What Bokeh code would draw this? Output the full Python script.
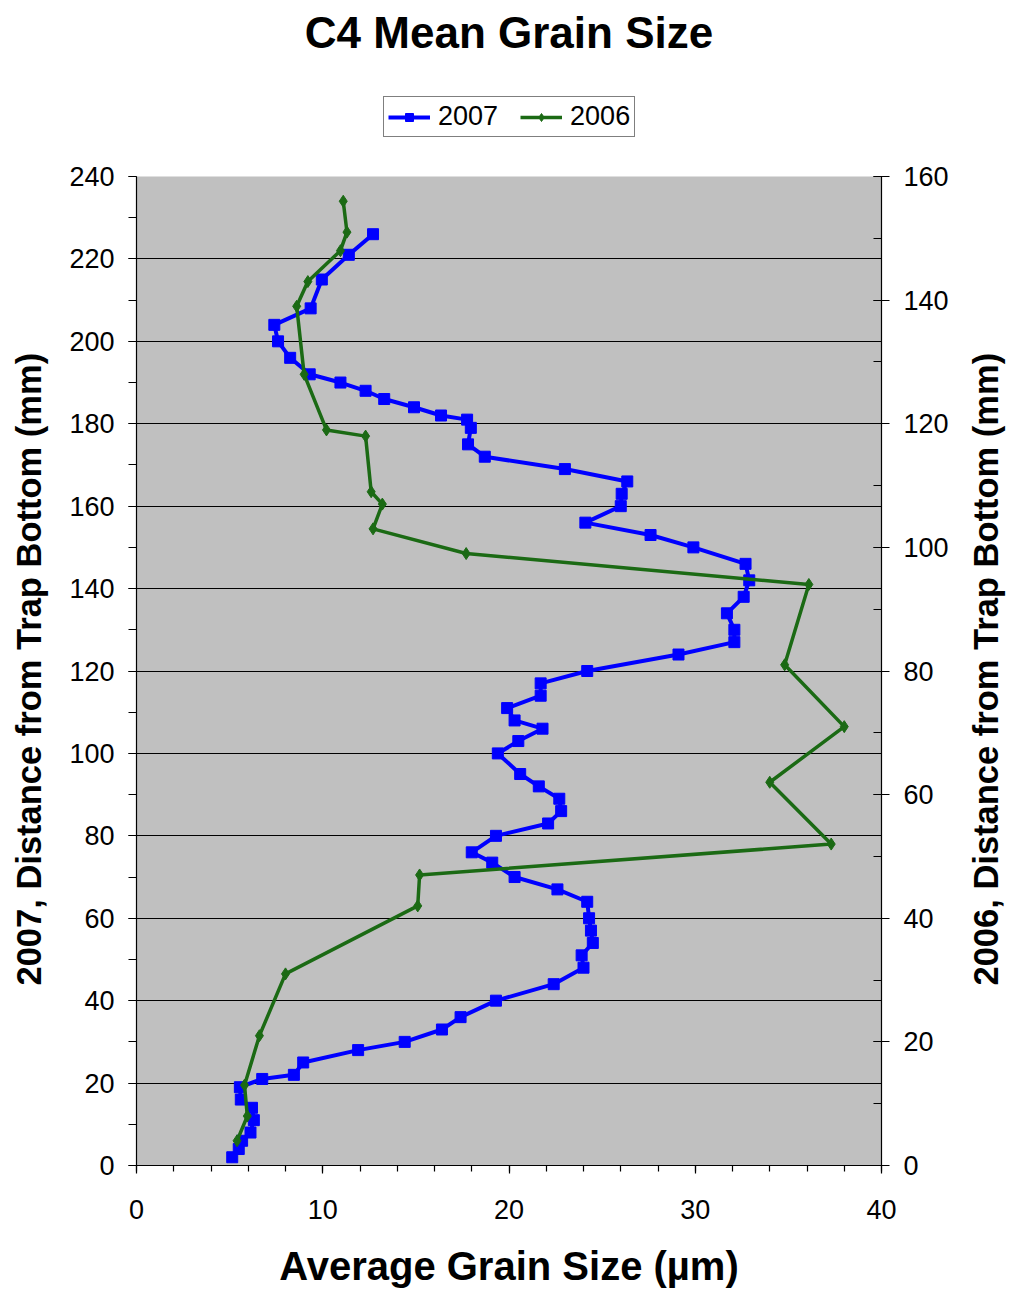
from bokeh.plotting import figure
from bokeh.layouts import row
from bokeh.models import (Range1d, LinearAxis, Legend, LegendItem, Title,
                          FixedTicker, SingleIntervalTicker)
from bokeh.embed import file_html
from bokeh.resources import INLINE

# 2007 core: distance from trap bottom (mm) and mean grain size (µm)
depth_2007 = [226, 221, 215, 208, 204, 200, 196, 192, 190, 188, 186, 184, 182,
              181, 179, 175, 172, 169, 166, 163, 160, 156, 153, 150, 146, 142,
              138, 134, 130, 127, 124, 120, 117, 114, 111, 108, 106, 103, 100,
              95, 92, 89, 86, 83, 80, 76, 73.5, 70, 67, 64, 60, 57, 54, 51, 48,
              44, 40, 36, 33, 30, 28, 25, 22, 21, 19, 16, 14, 11, 8, 6, 4, 2]
size_2007 = [12.7, 11.4, 9.95, 9.35, 7.4, 7.6, 8.25, 9.3, 10.95, 12.3, 13.3,
             14.9, 16.35, 17.75, 17.95, 17.8, 18.7, 23.0, 26.35, 26.05, 26.0,
             24.1, 27.6, 29.9, 32.7, 32.9, 32.6, 31.7, 32.1, 32.1, 29.1, 24.2,
             21.7, 21.7, 19.9, 20.3, 21.8, 20.5, 19.4, 20.6, 21.6, 22.7, 22.8,
             22.1, 19.3, 18.0, 19.1, 20.3, 22.6, 24.2, 24.3, 24.4, 24.5, 23.9,
             24.0, 22.4, 19.3, 17.4, 16.4, 14.4, 11.9, 8.95, 8.45, 6.75, 5.55,
             5.6, 6.2, 6.3, 6.12, 5.67, 5.49, 5.14]

# 2006 core: distance from trap bottom (mm) and mean grain size (µm)
depth_2006 = [156, 151, 148, 143, 139, 128, 119, 118, 109, 107, 103, 99, 94,
              81, 71, 62, 52, 47, 42, 31, 21, 13, 8, 4]
size_2006 = [11.1, 11.3, 10.95, 9.2, 8.6, 9.0, 10.2, 12.3, 12.6, 13.2, 12.7,
             17.7, 36.1, 34.8, 38.0, 34.0, 37.3, 15.2, 15.1, 8.0, 6.6, 5.8,
             5.95, 5.4]

TITLE = "C4 Mean Grain Size"
X_LABEL = "Average Grain Size (µm)"
Y_LABEL_2007 = "2007, Distance from Trap Bottom (mm)"
Y_LABEL_2006 = "2006, Distance from Trap Bottom (mm)"

# axis limits
X_MAX = 40
Y07_MAX = 240
Y06_MAX = 160

FONT = "Liberation Sans"
BLUE = "#0000FF"
GREEN = "#1B6A14"
PANEL_GREY = "#C0C0C0"

# page layout (px): [left title strip | chart | right title strip]
H = 1291
W_LEFT, W_RIGHT = 54, 56
W_MAIN = 1012 - W_LEFT - W_RIGHT
AXES_LEFT, AXES_RIGHT = 136, 881      # grey panel edges on the page
AXES_TOP, AXES_BOTTOM = 176, 1165     # 240 mm line and 0 line on the page
CHART_TOP = 58                        # chart frame starts above the legend
frame_h = AXES_BOTTOM - CHART_TOP
axes_h = AXES_BOTTOM - AXES_TOP
y07_end = Y07_MAX * frame_h / axes_h
y06_end = Y06_MAX * frame_h / axes_h
# vertical axis titles start this far above the 0 line
Y_TITLE_OFFSET = 180


def style_axis(ax, label, tick_font="27px", label_font="40px"):
    ax.axis_label = label
    ax.axis_label_text_font = FONT
    ax.axis_label_text_font_size = label_font
    ax.axis_label_text_font_style = "bold"
    ax.axis_label_text_color = "black"
    ax.major_label_text_font = FONT
    ax.major_label_text_font_size = tick_font
    ax.major_label_text_color = "black"
    ax.axis_line_color = "black"
    ax.axis_line_width = 1.2
    ax.major_tick_line_color = "black"
    ax.minor_tick_line_color = "black"
    ax.major_tick_line_width = 1.2
    ax.minor_tick_line_width = 1.2


def title_strip(width, label, standoff):
    """Narrow figure carrying one vertical title that reads bottom-to-top."""
    f = figure(width=width, height=H, output_backend="svg",
               toolbar_location=None,
               x_axis_location=None, y_axis_location=None,
               x_range=Range1d(0, 1), y_range=Range1d(0, 1),
               min_border_left=width - 2, min_border_right=0,
               min_border_top=CHART_TOP, min_border_bottom=H - AXES_BOTTOM,
               background_fill_color="white", border_fill_color="white")
    f.outline_line_color = None
    f.grid.visible = False
    t = Title(text=label, align="left", offset=Y_TITLE_OFFSET,
              vertical_align="bottom", standoff=standoff,
              text_font=FONT, text_font_size="34.5px",
              text_font_style="bold", text_color="black")
    f.add_layout(t, "left")
    return f


p = figure(width=W_MAIN, height=H, output_backend="svg", toolbar_location=None,
           x_range=Range1d(0, X_MAX), y_range=Range1d(0, y07_end),
           min_border_left=AXES_LEFT - W_LEFT,
           min_border_right=(W_LEFT + W_MAIN) - AXES_RIGHT,
           min_border_top=CHART_TOP, min_border_bottom=H - AXES_BOTTOM,
           background_fill_color="white", border_fill_color="white")
p.outline_line_color = None
p.extra_y_ranges = {"y2006": Range1d(0, y06_end)}

# grey plotting panel
p.quad(left=[0], right=[X_MAX], bottom=[0], top=[Y07_MAX],
       fill_color=PANEL_GREY, line_color=None, level="image")

# title
p.title.text = TITLE
p.title.align = "center"
p.title.text_font = FONT
p.title.text_font_size = "44px"
p.title.text_font_style = "bold"
p.title.text_color = "black"
p.title.standoff = 4

# horizontal grid only
p.xgrid.visible = False
p.ygrid.ticker = FixedTicker(ticks=list(range(20, Y07_MAX, 20)))
p.ygrid.grid_line_color = "black"
p.ygrid.grid_line_width = 1.2

# bottom axis
xax = p.xaxis[0]
xax.ticker = SingleIntervalTicker(interval=10, num_minor_ticks=5)
style_axis(xax, X_LABEL)
xax.major_tick_in = 0
xax.major_tick_out = 8
xax.minor_tick_in = 0
xax.minor_tick_out = 6
xax.major_label_standoff = 26
xax.axis_label_standoff = 22

# left axis (2007) numbers
yax = p.yaxis[0]
yax.ticker = SingleIntervalTicker(interval=20, num_minor_ticks=2)
yax.bounds = (0, Y07_MAX)
style_axis(yax, None)
yax.major_tick_in = 0
yax.major_tick_out = 8
yax.minor_tick_in = 0
yax.minor_tick_out = 8
yax.major_label_standoff = 14

# right axis (2006) numbers
rax = LinearAxis(y_range_name="y2006", bounds=(0, Y06_MAX),
                 ticker=SingleIntervalTicker(interval=20, num_minor_ticks=2))
style_axis(rax, None)
rax.major_tick_in = 8
rax.major_tick_out = 8
rax.minor_tick_in = 8
rax.minor_tick_out = 0
rax.major_label_standoff = 14
p.add_layout(rax, "right")

# series
l07 = p.line(size_2007, depth_2007, line_color=BLUE, line_width=4)
m07 = p.scatter(size_2007, depth_2007, marker="square", size=11,
                fill_color=BLUE, line_color=BLUE)
l06 = p.line(size_2006, depth_2006, line_color=GREEN, line_width=3.5,
             y_range_name="y2006")
m06 = p.scatter(size_2006, depth_2006, marker="diamond", size=12,
                fill_color=GREEN, line_color=GREEN, y_range_name="y2006")

legend = Legend(items=[LegendItem(label="2007", renderers=[l07, m07]),
                       LegendItem(label="2006", renderers=[l06, m06])],
                orientation="horizontal",
                location=(247, AXES_BOTTOM - 137))
legend.border_line_color = "black"
legend.border_line_width = 1.2
legend.background_fill_color = "white"
legend.background_fill_alpha = 1
legend.label_text_font = FONT
legend.label_text_font_size = "27px"
legend.label_text_color = "black"
legend.glyph_width = 42
legend.glyph_height = 20
legend.label_standoff = 8
legend.spacing = 22
legend.padding = 4
legend.margin = 0
p.add_layout(legend)

left_title = title_strip(W_LEFT, Y_LABEL_2007, standoff=9)
right_title = title_strip(W_RIGHT, Y_LABEL_2006, standoff=12)

layout = row(left_title, p, right_title)

open("out.html", "w").write(file_html(layout, INLINE))
